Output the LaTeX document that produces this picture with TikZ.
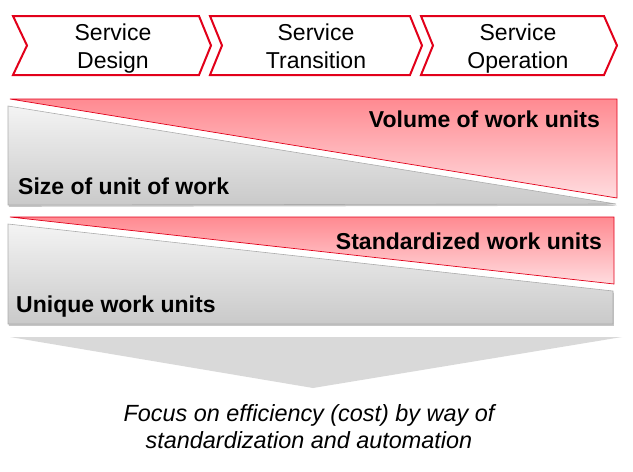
\documentclass[tikz,border=0pt]{standalone}
\usepackage{fontspec}
\setmainfont{Liberation Sans}
\usetikzlibrary{shadows}
\definecolor{itilred}{HTML}{E2001A}
\definecolor{bandtop}{HTML}{FF8A91}
\definecolor{bandbottom}{HTML}{FFDCDF}

\begin{document}
\begin{tikzpicture}[x=1pt,y=-1pt,
  chevron/.style={draw=itilred,line width=2pt,fill=white,line join=miter},
  redband/.style={draw=itilred,line width=0.7pt,top color=bandtop,bottom color=bandbottom},
  greyband/.style={draw=gray!65,line width=0.6pt,top color=gray!9,bottom color=gray!42,
    drop shadow={shadow xshift=0.8pt,shadow yshift=-1.8pt,opacity=0.45}},
  phase/.style={align=center,inner sep=0pt,font=\fontsize{23}{28}\selectfont},
  bandlabel/.style={inner sep=0pt,font=\fontsize{23}{27}\selectfont\bfseries}]
\useasboundingbox (0,0) rectangle (633,472);
% phases
\draw[chevron] (13,16)--(199,16)--(211,45.5)--(199,75)--(13,75)--(27,45.5)--cycle;
\draw[chevron] (210,16)--(410,16)--(422,45.5)--(410,75)--(210,75)--(222,45.5)--cycle;
\draw[chevron] (421,16)--(604,16)--(617,45.5)--(604,75)--(421,75)--(433,45.5)--cycle;
\node[phase,anchor=base] (design) at (113,68) {Service\\Design};
\node[phase,anchor=base] (transition) at (316,68) {Service\\Transition};
\node[phase,anchor=base] (operation) at (518,68) {Service\\Operation};
% first band
\draw[redband] (10,99)--(617,99)--(617,198)--cycle;
\draw[greyband] (8,106)--(616,204)--(8,205)--cycle;
\node[bandlabel,anchor=base east] (volume) at (600,127) {Volume of work units};
\node[bandlabel,anchor=base west] (size) at (18,194) {Size of unit of work};
% second band
\draw[redband] (10,217)--(614,217)--(614,284)--cycle;
\draw[greyband] (8,224)--(613,291)--(613,324)--(8,324)--cycle;
\node[bandlabel,anchor=base east] (standard) at (602,249) {Standardized work units};
\node[bandlabel,anchor=base west] (unique) at (16,312) {Unique work units};
% result
\fill[gray!30] (10,337)--(622,337)--(313,388)--cycle;
\node[align=center,inner sep=0pt,anchor=base,font=\fontsize{23.4}{27}\selectfont\itshape] (focus) at (309,448)
  {Focus on efficiency (cost) by way of\\standardization and automation};
\end{tikzpicture}
\end{document}
